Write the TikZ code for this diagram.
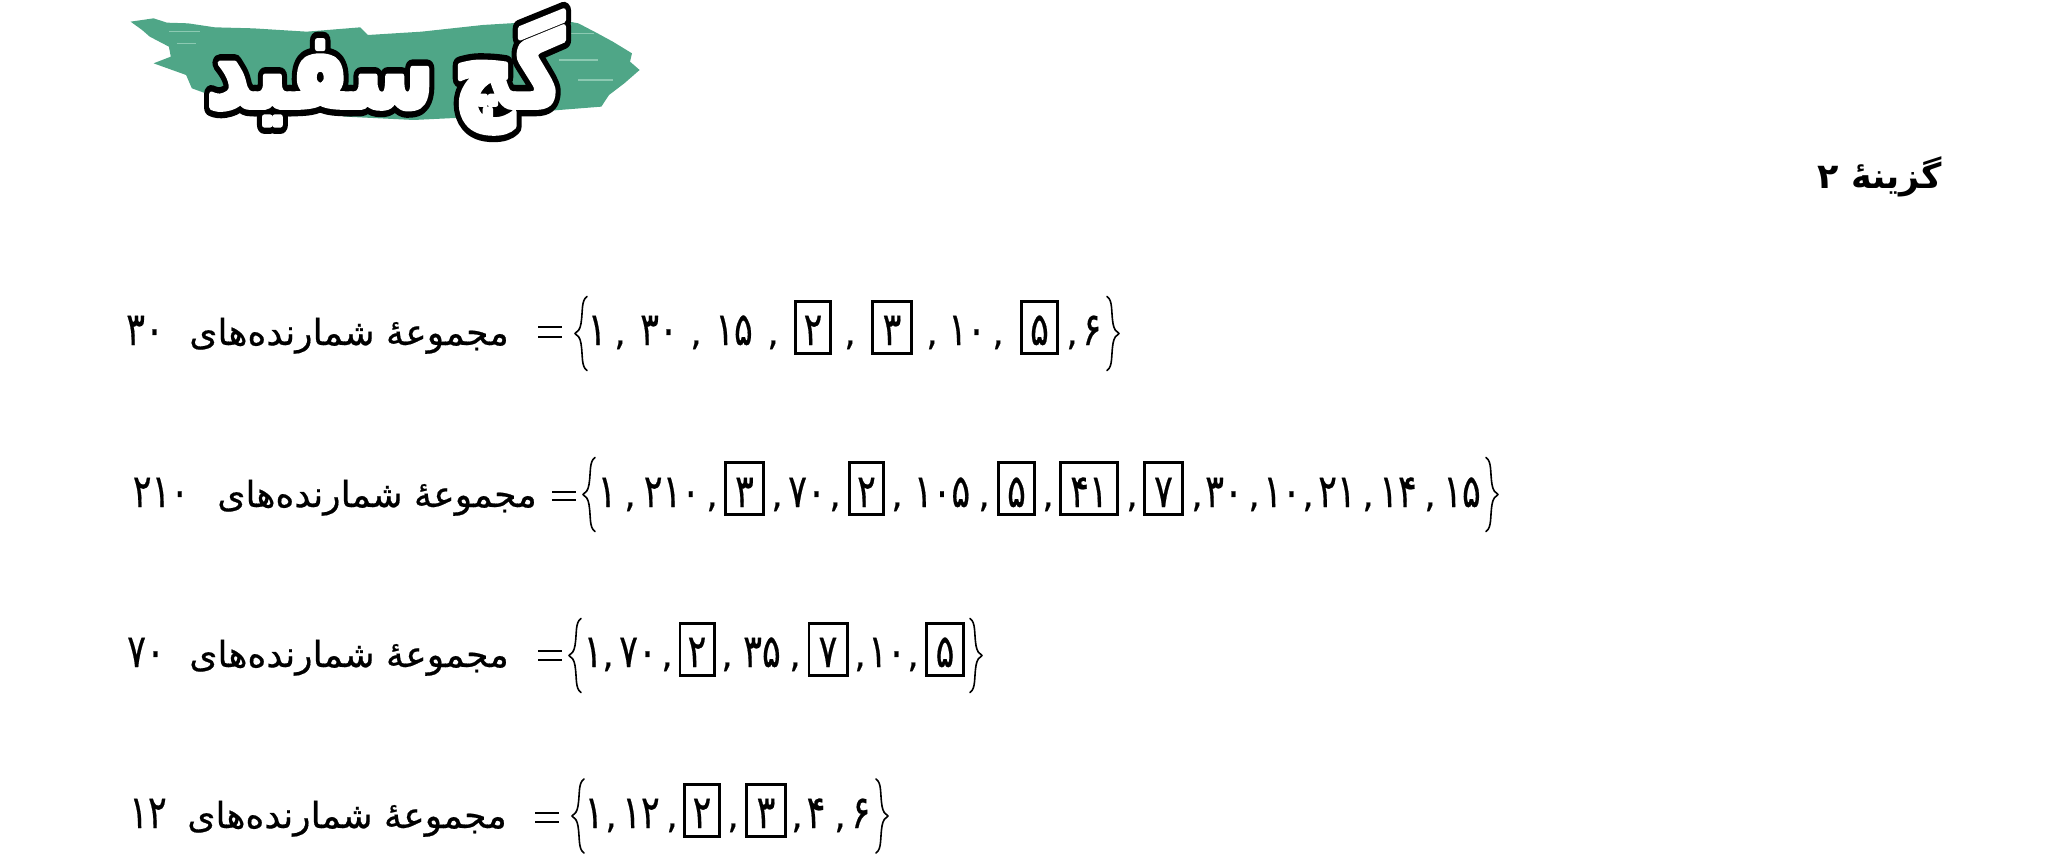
\documentclass[tikz,border=0pt]{standalone}
\usepackage{fontspec}
\usepackage{graphicx}
\usetikzlibrary{calc}
\TeXXeTstate=1
\newfontfamily\arabicfont[Script=Arabic,FakeBold=0.5]{DejaVu Sans}
\newfontfamily\labelfont[Script=Arabic,FakeBold=0.5]{DejaVu Sans}
\newfontfamily\arabicbold[Script=Arabic]{DejaVu Sans Bold}
\newfontfamily\logoouter[Script=Arabic,FakeBold=17]{DejaVu Sans Bold}
\newfontfamily\logoinner[Script=Arabic,FakeBold=5]{DejaVu Sans Bold}
\definecolor{brush}{HTML}{4FA687}
\definecolor{brushlight}{HTML}{8CC9B2}
\newcounter{itm}
\tikzset{
  tok/.style={anchor=base,inner sep=0pt,font=\arabicfont\fontsize{46}{46}\selectfont},
  comma/.style={anchor=base,inner sep=0pt,font=\arabicfont\fontsize{36}{36}\selectfont},
  boxed/.style={draw,line width=2.6pt,inner sep=0pt,minimum height=52.4pt,anchor=center},
  lbl/.style={anchor=base,inner sep=0pt,font=\labelfont\fontsize{36}{36}\selectfont},
  bracepath/.style={line width=1.6pt,line cap=round,line join=round},
  logoo/.style={inner sep=0pt,anchor=center,text=black,font=\logoouter\fontsize{106}{106}\selectfont},
  logoi/.style={inner sep=0pt,anchor=center,text=white,font=\logoinner\fontsize{106}{106}\selectfont},
}
\newcommand{\nar}[1]{\scalebox{.76}[1]{#1}}
\newcommand{\logoword}{\scalebox{.8}[1]{\beginR گچ\hspace{-.12em} سفید\endR}}
\newcommand{\tk}[2]{\stepcounter{itm}\node[tok,name=t\theitm] at (#1,\rowbase) {\nar{#2}};}
\newcommand{\cm}[1]{\stepcounter{itm}\node[comma,name=t\theitm] at (#1,\rowbase) {,};}
\newcommand{\bx}[3]{\stepcounter{itm}\node[boxed,minimum width=#2pt-2.6pt,name=b\theitm] at (#1,\rowbox) {};
  \node[tok,name=d\theitm] at (#1,\rowbase) {\nar{#3}};}
\newcommand{\lb}[3]{\stepcounter{itm}\node[lbl,name=l\theitm] at (#1,\rowbase) {\beginR مجموعهٔ شمارنده‌های\endR};
  \node[tok,name=n\theitm] at (#2,\rowbase) {\nar{#3}};}
\newcommand{\eq}[3]{\draw[line width=2.5pt] (#1-12,#2) -- (#1+12,#2) (#1-12,#3) -- (#1+12,#3);}
\newcommand{\bl}[1]{\draw[bracepath] (#1+6,\rowbrace-37) .. controls (#1,\rowbrace-33) and (#1+2,\rowbrace-22) .. (#1,\rowbrace-10) .. controls (#1-1,\rowbrace-4) and (#1-3,\rowbrace-2) .. (#1-6,\rowbrace) .. controls (#1-3,\rowbrace+2) and (#1-1,\rowbrace+4) .. (#1,\rowbrace+10) .. controls (#1+2,\rowbrace+22) and (#1,\rowbrace+33) .. (#1+6,\rowbrace+37);}
\newcommand{\br}[1]{\draw[bracepath] (#1-6,\rowbrace-37) .. controls (#1,\rowbrace-33) and (#1-2,\rowbrace-22) .. (#1,\rowbrace-10) .. controls (#1+1,\rowbrace-4) and (#1+3,\rowbrace-2) .. (#1+6,\rowbrace) .. controls (#1+3,\rowbrace+2) and (#1+1,\rowbrace+4) .. (#1,\rowbrace+10) .. controls (#1-2,\rowbrace+22) and (#1,\rowbrace+33) .. (#1-6,\rowbrace+37);}
\newcommand{\setrow}[3]{\def\rowbase{#1}\def\rowbox{#2}\def\rowbrace{#3}}
\begin{document}
\begin{tikzpicture}[x=1pt,y=-1pt]
\useasboundingbox (0,0) rectangle (2067,864);
% --- logo brush
\begin{scope}[shift={(100,0)},x=0.3827pt,y=-0.3333pt]
\fill[brush] (80,65) -- (140,55) -- (175,68) -- (230,70) -- (300,82) -- (400,85) -- (540,95) -- (680,82) -- (700,105) -- (840,95) -- (1000,75) -- (1100,68) -- (1180,55) -- (1250,70) -- (1300,100) -- (1340,125) -- (1390,160) -- (1385,185) -- (1410,210) -- (1370,250) -- (1330,285) -- (1310,320) -- (1200,330) -- (1000,350) -- (820,360) -- (640,350) -- (520,310) -- (300,290) -- (240,265) -- (225,225) -- (140,190) -- (185,170) -- (180,140) -- (130,110) -- (110,90) -- cycle;
\foreach \a/\b/\c in {180/95/260,1190/100/1290,1250/240/1340,540/325/700,1200/180/1300,200/130/250}
  \draw[brushlight,line width=1.5pt] (\a,\b) -- (\c,\b);
\end{scope}
% --- logo lettering
\begin{scope}[line join=round]
\node[logoo,name=logoback] at (385,72) {\logoword};
\node[logoi,name=logo] at (385,72) {\logoword};
\end{scope}
% --- heading
\node[anchor=base east,inner sep=0pt,font=\arabicbold\fontsize{35}{35}\selectfont,name=head] at (1942,188) {\beginR گزینهٔ ۲\endR};
% --- row 1
\setrow{345}{327.5}{333.5}
\lb{349}{145}{۳۰}
\eq{550}{327}{337}\bl{581}
\tk{597}{۱}\cm{620}\tk{659}{۳۰}\cm{696}\tk{734}{۱۵}\cm{773}
\bx{813}{38}{۲}\cm{850}\bx{892}{42}{۳}\cm{932}\tk{967}{۱۰}\cm{998}\bx{1039.5}{39}{۵}\cm{1072}\tk{1092}{۶}
\br{1113}
% --- row 2
\setrow{507}{488.5}{494.5}
\lb{377}{161}{۲۱۰}
\eq{564}{492}{500}\bl{589}
\tk{607}{۱}\cm{630}\tk{672}{۲۱۰}\cm{712}
\bx{744.5}{41}{۳}\cm{777}\tk{807}{۷۰}\cm{835}\bx{866.5}{37}{۲}\cm{897}\tk{942}{۱۰۵}\cm{984}
\bx{1016.5}{39}{۵}\cm{1048}\bx{1089}{60}{۴۱}\cm{1132}\bx{1163.5}{41}{۷}\cm{1197}
\tk{1224}{۳۰}\cm{1254}\tk{1282}{۱۰}\cm{1308}\tk{1337}{۲۱}\cm{1368}\tk{1398}{۱۴}\cm{1430}\tk{1462}{۱۵}
\br{1492}
% --- row 3
\setrow{667}{649.5}{655.5}
\lb{349}{146}{۷۰}
\eq{550}{651}{660}\bl{575}
\tk{593}{۱}\cm{608}\tk{638}{۷۰}\cm{667}\bx{697}{37}{۲}\cm{727}\tk{762}{۳۵}\cm{795}
\bx{828}{41}{۷}\cm{860}\tk{887}{۱۰}\cm{913}\bx{945}{40}{۵}
\br{976}
% --- row 4
\setrow{828}{810.5}{816}
\lb{347}{148}{۱۲}
\eq{547}{813}{822}\bl{578}
\tk{594}{۱}\cm{611}\tk{641}{۱۲}\cm{672}\bx{702}{38}{۲}\cm{733}\bx{766}{42}{۳}\cm{797}
\tk{816}{۴}\cm{840}\tk{861}{۶}
\br{882}
\end{tikzpicture}
\end{document}
